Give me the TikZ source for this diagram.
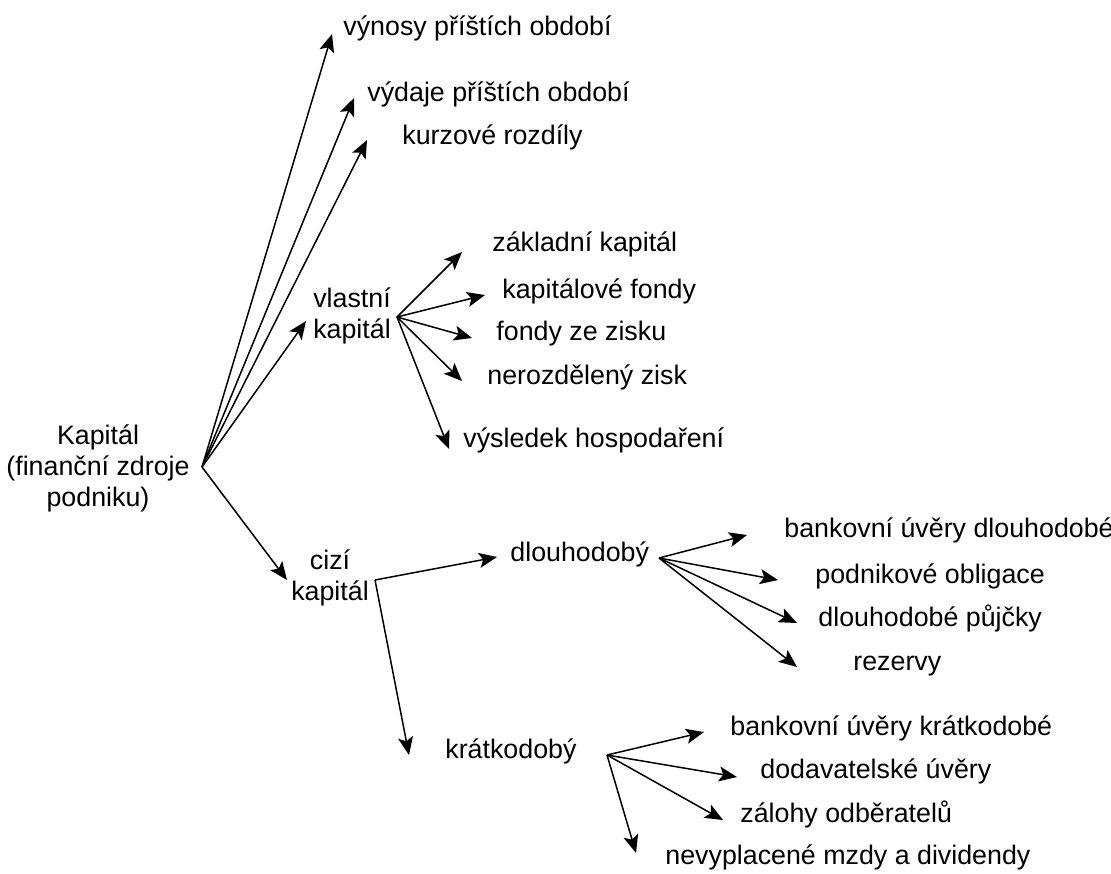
\documentclass[tikz,border=0pt]{standalone}
\usepackage{fontspec}
\setmainfont{Liberation Sans}
\usetikzlibrary{arrows.meta}
\begin{document}
\begin{tikzpicture}[x=0.5pt,y=-0.5pt,
  lbl/.style={inner sep=0pt,anchor=west,text height=0.72em,text depth=0.2em,font=\fontsize{13.4pt}{15.5pt}\selectfont},
  mlbl/.style={inner sep=0pt,align=center,font=\fontsize{13.4pt}{15.5pt}\selectfont},
  arr/.style={line width=0.75pt,-{Stealth[length=9pt,width=7.5pt,inset=2pt]}}]
\useasboundingbox (0,0) rectangle (1111,873);
% labels
\node[mlbl] (kap) at (98,468) {Kapitál\\(finanční zdroje\\podniku)};
\node[lbl] (vyn) at (343,30) {výnosy příštích období};
\node[lbl] (vyd) at (367,96) {výdaje příštích období};
\node[lbl] (kur) at (402,139) {kurzové rozdíly};
\node[mlbl] (vk) at (352,316) {vlastní\\kapitál};
\node[lbl] (zak) at (492,246) {základní kapitál};
\node[lbl] (kf) at (502,293) {kapitálové fondy};
\node[lbl] (fz) at (496,335) {fondy ze zisku};
\node[lbl] (nz) at (487,379) {nerozdělený zisk};
\node[lbl] (vh) at (463,442) {výsledek hospodaření};
\node[mlbl] (ck) at (330,578) {cizí\\kapitál};
\node[lbl] (dl) at (510,556) {dlouhodobý};
\node[lbl] (bud) at (784,532) {bankovní úvěry dlouhodobé};
\node[lbl] (po) at (815,578) {podnikové obligace};
\node[lbl] (dp) at (818,621) {dlouhodobé půjčky};
\node[lbl] (rez) at (853,665) {rezervy};
\node[lbl] (kr) at (445,753) {krátkodobý};
\node[lbl] (buk) at (730,730) {bankovní úvěry krátkodobé};
\node[lbl] (du) at (760,773) {dodavatelské úvěry};
\node[lbl] (zo) at (740,817) {zálohy odběratelů};
\node[lbl] (nm) at (665,859) {nevyplacené mzdy a dividendy};
% connector points
\coordinate (k0) at (202,467);
\coordinate (tvyn) at (332,34);
\coordinate (tvyd) at (354,98);
\coordinate (tkur) at (367,140);
\coordinate (tvk) at (306,321);
\coordinate (tck) at (287,580);
\coordinate (v0) at (397,317);
\coordinate (tzak) at (462,252);
\coordinate (tkf) at (485,295);
\coordinate (tfz) at (472,338);
\coordinate (tnz) at (462,381);
\coordinate (tvh) at (449,449);
\coordinate (c0) at (375,580);
\coordinate (tdl) at (497,557);
\coordinate (tkr) at (409,755);
\coordinate (d0) at (659,558);
\coordinate (tbud) at (747,535);
\coordinate (tpo) at (778,580);
\coordinate (tdp) at (797,623);
\coordinate (trez) at (797,667);
\coordinate (r0) at (607,755);
\coordinate (tbuk) at (704,732);
\coordinate (tdu) at (737,777);
\coordinate (tzo) at (723,820);
\coordinate (tnm) at (636,853);
% connectors
\foreach \t in {tvyn,tvyd,tkur,tvk,tck} \draw[arr] (k0) -- (\t);
\foreach \t in {tzak,tkf,tfz,tnz,tvh} \draw[arr] (v0) -- (\t);
\foreach \t in {tdl,tkr} \draw[arr] (c0) -- (\t);
\foreach \t in {tbud,tpo,tdp,trez} \draw[arr] (d0) -- (\t);
\foreach \t in {tbuk,tdu,tzo,tnm} \draw[arr] (r0) -- (\t);
\end{tikzpicture}
\end{document}
